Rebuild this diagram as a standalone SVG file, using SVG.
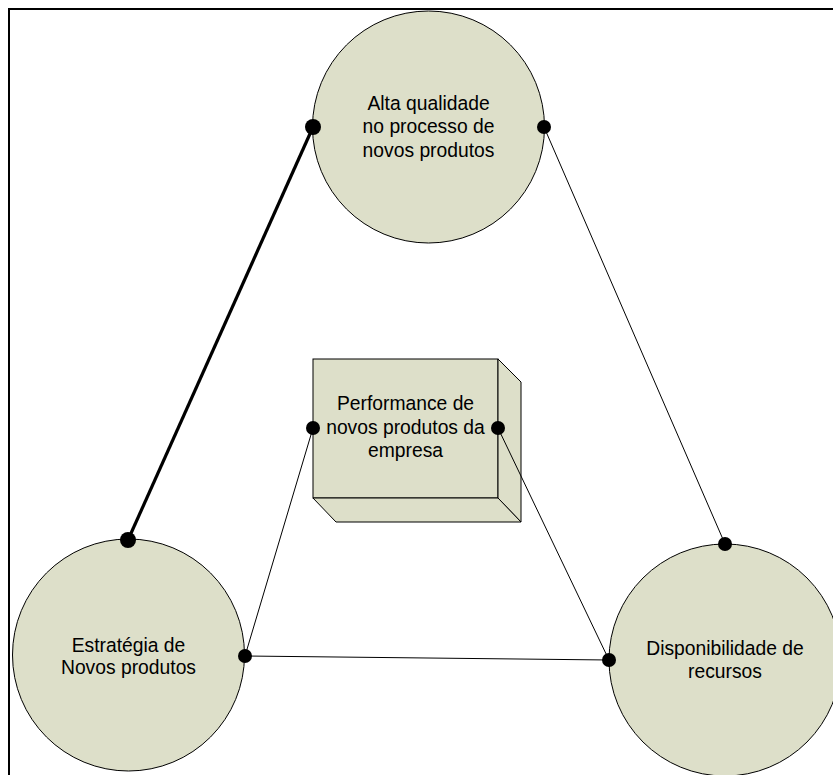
<svg xmlns="http://www.w3.org/2000/svg" width="833" height="775" viewBox="0 0 833 775">
<style>
.node{fill:#DDDFC9;stroke:#000;stroke-width:1}
.lbl{font-family:"Liberation Sans",Arial,sans-serif;font-size:19.3px;fill:#000;text-anchor:middle}
.conn{stroke:#000;stroke-width:1;fill:none}
.thick{stroke-width:3.2}
.dot{fill:#000}
</style>
<rect x="9" y="9" width="900" height="900" fill="#fff" stroke="#000" stroke-width="2"/>
<g id="node-alta">
<circle class="node" cx="428.5" cy="127" r="116"/>
<text class="lbl" x="428.5" y="110">Alta qualidade</text>
<text class="lbl" x="428.5" y="133">no processo de</text>
<text class="lbl" x="428.5" y="157">novos produtos</text>
</g>
<g id="node-estrategia">
<circle class="node" cx="128.5" cy="655" r="116"/>
<text class="lbl" x="128.5" y="652">Estratégia de</text>
<text class="lbl" x="128.5" y="674">Novos produtos</text>
</g>
<g id="node-disponibilidade">
<circle class="node" cx="725" cy="660" r="116"/>
<text class="lbl" x="725" y="655">Disponibilidade de</text>
<text class="lbl" x="725" y="678">recursos</text>
</g>
<g id="node-performance">
<rect class="node" x="313" y="359" width="185" height="139"/>
<polygon class="node" points="498,359 521,382 521,522 498,498"/>
<polygon class="node" points="313,498 498,498 521,522 336,522"/>
<text class="lbl" x="405.5" y="410">Performance de</text>
<text class="lbl" x="405.5" y="434">novos produtos da</text>
<text class="lbl" x="405.5" y="457">empresa</text>
</g>
<g id="connectors">
<line class="conn thick" x1="313" y1="127" x2="128" y2="540"/>
<line class="conn" x1="544" y1="127" x2="725" y2="544"/>
<line class="conn" x1="313" y1="428" x2="245" y2="656"/>
<line class="conn" x1="498" y1="428" x2="609" y2="660"/>
<line class="conn" x1="245" y1="656" x2="609" y2="660"/>
<circle class="dot" cx="313" cy="127" r="8"/>
<circle class="dot" cx="544" cy="127" r="7"/>
<circle class="dot" cx="128" cy="540" r="8"/>
<circle class="dot" cx="245" cy="656" r="7"/>
<circle class="dot" cx="725" cy="544" r="7"/>
<circle class="dot" cx="609" cy="660" r="7"/>
<circle class="dot" cx="313" cy="428" r="7"/>
<circle class="dot" cx="498" cy="428" r="7"/>
</g>
</svg>
